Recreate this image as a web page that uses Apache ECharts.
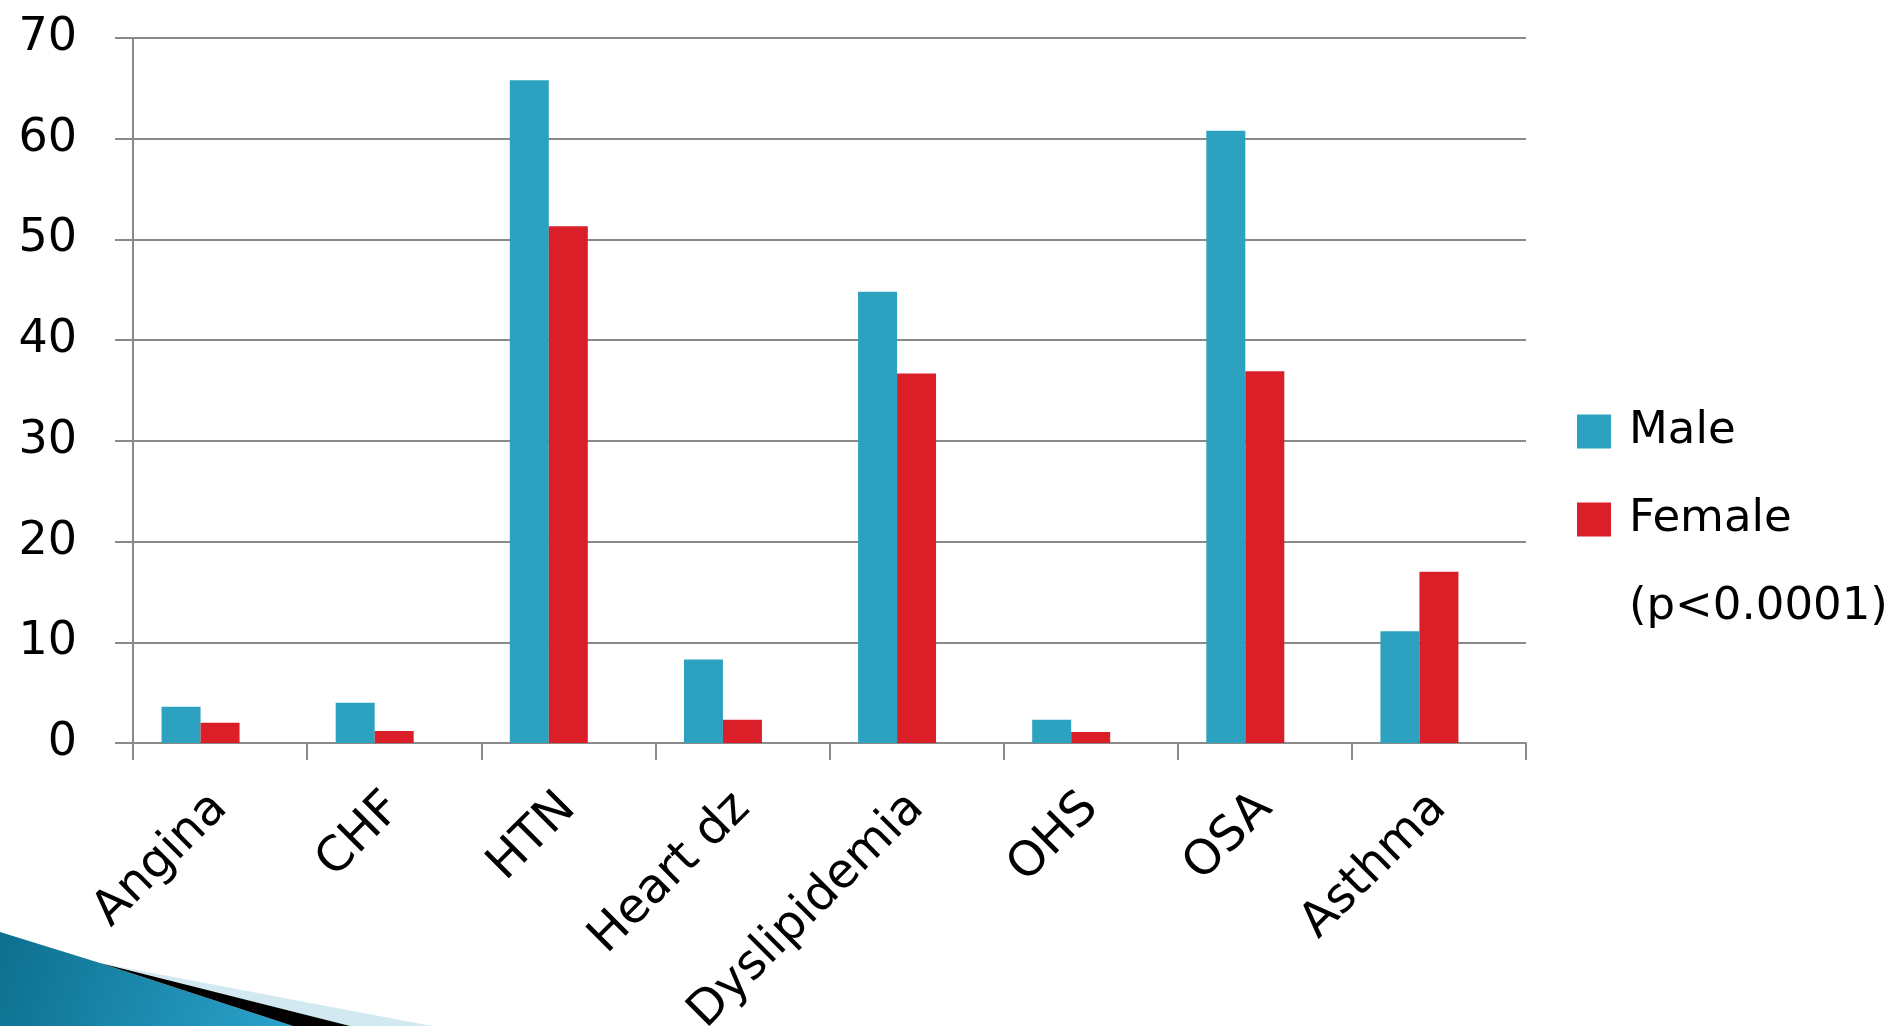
<!DOCTYPE html>
<html>
<head>
<meta charset="utf-8">
<script src="https://cdn.jsdelivr.net/npm/echarts@6/dist/echarts.min.js"></script>
<style>
html,body{margin:0;padding:0;background:#fff;}
#c{width:1903px;height:1026px;}
</style>
</head>
<body>
<div id="c"></div>
<script>
const categories = ['Angina', 'CHF', 'HTN', 'Heart dz', 'Dyslipidemia', 'OHS', 'OSA', 'Asthma'];
const maleValues = [3.6, 4.0, 65.8, 8.3, 44.8, 2.3, 60.8, 11.1];
const femaleValues = [2.0, 1.2, 51.3, 2.3, 36.7, 1.1, 36.9, 17.0];
// third (empty) series of the original chart: only its legend entry shows
const noteValues = ['-', '-', '-', '-', '-', '-', '-', '-'];
const seriesNames = ['Male', 'Female', '(p<0.0001)'];

const chart = echarts.init(document.getElementById('c'));
const axisGray = '#8a8a8a';
const font = 'DejaVu Sans';

chart.setOption({
  backgroundColor: '#ffffff',
  animation: false,
  grid: { left: 133, right: 377, top: 38, bottom: 283, outerBoundsMode: 'none', containLabel: false },
  legend: {
    orient: 'vertical',
    left: 1572,
    top: 404,
    itemWidth: 34,
    itemHeight: 34,
    itemGap: 43,
    data: [
      { name: seriesNames[0], icon: 'rect' },
      { name: seriesNames[1], icon: 'rect' },
      { name: seriesNames[2], icon: 'none' }
    ],
    selectedMode: false,
    textStyle: { fontFamily: font, fontSize: 45, color: '#000', padding: [0, 0, 0, 13] }
  },
  graphic: [
    {
      type: 'polygon', silent: true, z: 0,
      shape: { points: [[0, 932], [100, 963], [293, 1026], [0, 1026]] },
      style: {
        fill: new echarts.graphic.LinearGradient(0, 0, 1, 1, [
          { offset: 0, color: '#0d6f8e' },
          { offset: 1, color: '#2aa3cc' }
        ])
      }
    },
    {
      type: 'polygon', silent: true, z: 0,
      shape: { points: [[110, 965], [432, 1026], [345, 1026]] },
      style: { fill: '#d3e9f2' }
    },
    {
      type: 'polygon', silent: true, z: 1,
      shape: { points: [[100, 963], [350, 1026], [293, 1026]] },
      style: { fill: '#000000' }
    }
  ],
  xAxis: {
    type: 'category',
    data: categories,
    boundaryGap: true,
    axisLine: { show: true, lineStyle: { color: axisGray, width: 2 } },
    axisTick: { show: true, length: 17, lineStyle: { color: axisGray, width: 2 } },
    axisLabel: {
      rotate: 45, margin: 58, interval: 0,
      fontFamily: font, fontSize: 48, color: '#000'
    },
    splitLine: { show: false }
  },
  yAxis: {
    type: 'value',
    min: 0, max: 70, interval: 10,
    axisLine: { show: true, lineStyle: { color: axisGray, width: 2 } },
    axisTick: { show: true, length: 18, lineStyle: { color: axisGray, width: 2 } },
    axisLabel: { margin: 56, fontFamily: font, fontSize: 46, color: '#000' },
    splitLine: { show: true, lineStyle: { color: axisGray, width: 2 } }
  },
  series: [
    {
      name: seriesNames[0], type: 'bar', data: maleValues,
      barWidth: 39, barGap: '0%',
      itemStyle: { color: '#2ca2c0' }
    },
    {
      name: seriesNames[1], type: 'bar', data: femaleValues,
      barWidth: 39, barGap: '0%',
      itemStyle: { color: '#da1f28' }
    },
    {
      name: seriesNames[2], type: 'bar', data: noteValues,
      barWidth: 39, barGap: '0%',
      itemStyle: { color: 'rgba(0,0,0,0)' }
    }
  ]
});
</script>
</body>
</html>
